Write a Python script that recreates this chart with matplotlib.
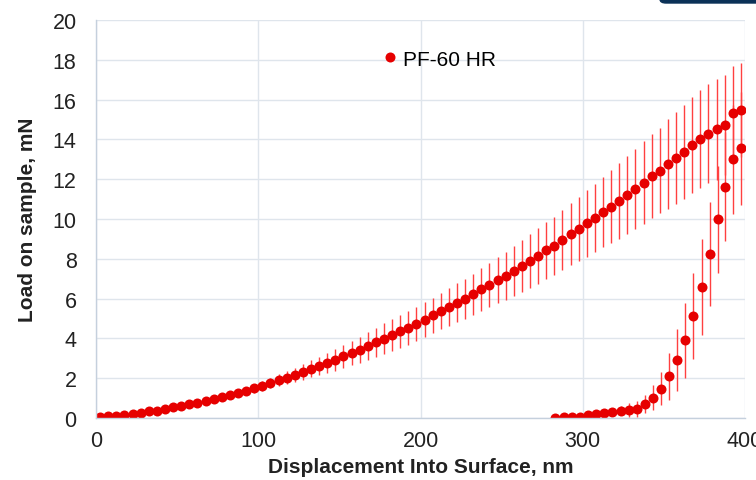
import matplotlib
matplotlib.use("Agg")
import matplotlib.pyplot as plt
from matplotlib.lines import Line2D
from matplotlib.patches import FancyBboxPatch

plt.rcParams['font.family'] = ['Liberation Sans', 'DejaVu Sans']

# loading segment
load_x = [2.5, 7.5, 12.5, 17.5, 22.5, 27.5, 32.5, 37.5, 42.5, 47.5,
          52.5, 57.5, 62.5, 67.5, 72.5, 77.5, 82.5, 87.5, 92.5, 97.5,
          102.5, 107.5, 112.5, 117.5, 122.5, 127.5, 132.5, 137.5, 142.5, 147.5,
          152.5, 157.5, 162.5, 167.5, 172.5, 177.5, 182.5, 187.5, 192.5, 197.5,
          202.5, 207.5, 212.5, 217.5, 222.5, 227.5, 232.5, 237.5, 242.5, 247.5,
          252.5, 257.5, 262.5, 267.5, 272.5, 277.5, 282.5, 287.5, 292.5, 297.5,
          302.5, 307.5, 312.5, 317.5, 322.5, 327.5, 332.5, 337.5, 342.5, 347.5,
          352.5, 357.5, 362.5, 367.5, 372.5, 377.5, 382.5, 387.5, 392.5, 397.5]
load_y = [0.03, 0.08, 0.12, 0.15, 0.20, 0.27, 0.34, 0.37, 0.45, 0.54,
          0.60, 0.69, 0.77, 0.85, 0.94, 1.06, 1.16, 1.27, 1.37, 1.50,
          1.63, 1.76, 1.91, 2.03, 2.16, 2.30, 2.48, 2.61, 2.76, 2.91,
          3.10, 3.27, 3.43, 3.60, 3.80, 3.99, 4.15, 4.36, 4.54, 4.72,
          4.94, 5.16, 5.36, 5.58, 5.79, 5.99, 6.21, 6.46, 6.68, 6.92,
          7.15, 7.40, 7.64, 7.89, 8.16, 8.43, 8.66, 8.93, 9.23, 9.50,
          9.78, 10.05, 10.35, 10.62, 10.92, 11.22, 11.51, 11.82, 12.16, 12.43,
          12.76, 13.07, 13.37, 13.70, 14.02, 14.29, 14.50, 14.72, 15.32, 15.46]
load_err = [0.03, 0.03, 0.04, 0.04, 0.05, 0.05, 0.06, 0.06, 0.07, 0.07,
            0.08, 0.09, 0.10, 0.11, 0.12, 0.14, 0.15, 0.17, 0.20, 0.22,
            0.25, 0.27, 0.30, 0.33, 0.36, 0.40, 0.43, 0.47, 0.51, 0.55,
            0.58, 0.62, 0.66, 0.70, 0.74, 0.77, 0.80, 0.83, 0.85, 0.86,
            0.87, 0.89, 0.91, 0.94, 0.97, 1.00, 1.04, 1.08, 1.12, 1.16,
            1.20, 1.25, 1.30, 1.36, 1.41, 1.44, 1.46, 1.50, 1.55, 1.60,
            1.69, 1.72, 1.78, 1.84, 1.90, 1.96, 2.02, 2.08, 2.12, 2.15,
            2.25, 2.33, 2.37, 2.41, 2.45, 2.50, 2.56, 2.53, 2.38, 2.36]

# unloading segment
unload_x = [282.7, 288.5, 293.4, 298.2, 303.1, 308.0, 313.2, 318.1, 323.3, 328.2,
            333.3, 338.5, 343.4, 348.3, 353.1, 358.0, 363.2, 368.1, 373.3, 378.4,
            383.1, 387.9, 392.8, 397.5]
unload_y = [0.00, 0.05, 0.05, 0.07, 0.13, 0.19, 0.25, 0.30, 0.37, 0.40,
            0.45, 0.70, 1.02, 1.47, 2.09, 2.90, 3.90, 5.13, 6.58, 8.24,
            9.98, 11.62, 13.00, 13.55]
unload_err = [0.0, 0.0, 0.0, 0.03, 0.08, 0.12, 0.17, 0.20, 0.22, 0.33,
              0.42, 0.47, 0.64, 0.84, 1.18, 1.56, 1.88, 2.18, 2.43, 2.60,
              2.70, 2.75, 2.75, 2.83]

fig = plt.figure(figsize=(7.56, 4.81), dpi=100)
ax = fig.add_axes([96 / 756, 1 - 419 / 481, 649 / 756, 398 / 481])

mcol = '#e60000'
ecol = '#ff4040'
msize = 7.2
style = dict(fmt='o', color=mcol, ecolor=ecol, elinewidth=1.0, capsize=2.2,
             capthick=1.0, markersize=msize, markeredgewidth=0)
ax.errorbar(load_x, load_y, yerr=load_err, **style)
ax.errorbar(unload_x, unload_y, yerr=unload_err, **style)

ax.set_xlim(0, 400)
ax.set_ylim(0, 20)
ax.set_xticks([0, 100, 200, 300, 400])
ax.set_yticks(range(0, 21, 2))
ax.grid(True, color='#dfe5ec', linewidth=1.0)
ax.set_axisbelow(True)
for s in ['top', 'right']:
    ax.spines[s].set_visible(False)
for s in ['left', 'bottom']:
    ax.spines[s].set_color('#c5d0dd')
    ax.spines[s].set_linewidth(1.0)
ax.tick_params(length=0, labelsize=15.5, colors='#222222')
ax.tick_params(axis='y', pad=14)
ax.tick_params(axis='x', pad=9)

ax.set_xlabel('Displacement Into Surface, nm', fontsize=15, fontweight='bold',
              color='#222222', labelpad=4)
ax.set_ylabel('Load on sample, mN', fontsize=15, fontweight='bold',
              color='#222222', labelpad=11)

handle = Line2D([], [], marker='o', linestyle='none', color=mcol,
                markersize=msize, markeredgewidth=0)
ax.legend([handle], ['PF-60 HR'], loc='center left',
          bbox_to_anchor=((385 - 96) / 649, (419 - 60) / 398),
          frameon=False, fontsize=15, handlelength=0.5, handletextpad=0.35,
          borderpad=0, borderaxespad=0)

# dark banner corner at top right
fig.patches.append(FancyBboxPatch((660 / 756, 1 - 4 / 481), 0.2, 0.05,
                                  boxstyle='round,pad=0,rounding_size=0.008',
                                  transform=fig.transFigure, color='#0b3157',
                                  zorder=5))

fig.savefig('out.png', dpi=100)
